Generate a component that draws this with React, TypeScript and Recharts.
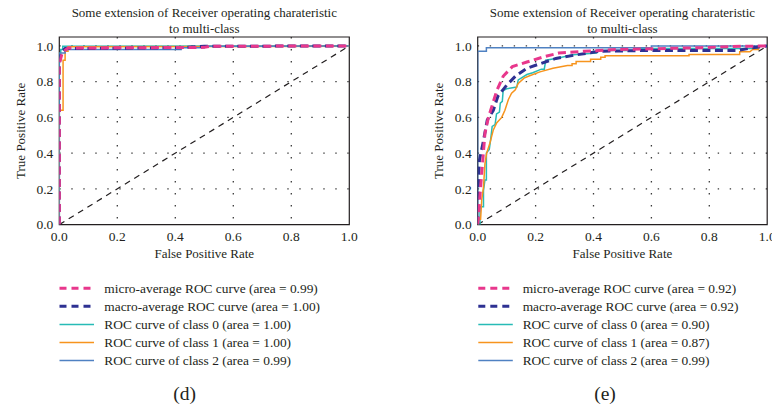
import React from 'react';
import { LineChart, Line, XAxis, YAxis, CartesianGrid, ReferenceArea } from 'recharts';

// ---------- data ----------
const xTicks = [0, 0.2, 0.4, 0.6, 0.8, 1.0];
const yTicks = [0, 0.2, 0.4, 0.6, 0.8, 1.0];
const gridXValues = [0.2, 0.4, 0.6, 0.8];
const gridYValues = [0.2, 0.4, 0.6, 0.8, 1.0];

const titleLines = ['Some extension of Receiver operating charateristic', 'to multi-class'];
const xAxisLabel = 'False Positive Rate';
const yAxisLabel = 'True Positive Rate';

const chance = [[0, 0], [1, 1]];

// panel (d)
const dMicro = [[0, 0], [0, 0.9], [0.01, 0.96], [0.02, 0.975], [0.03, 0.988], [0.5, 0.992], [0.52, 0.998], [1, 1]];
const dMacro = [[0, 0], [0, 0.9], [0.005, 0.95], [0.01, 0.97], [0.02, 0.985], [0.42, 0.99], [0.5, 0.998], [1, 1]];
const dClass0 = [[0, 0], [0, 0.96], [0.005, 0.96], [0.005, 0.98], [0.012, 0.98], [0.012, 0.998], [1, 1]];
const dClass1 = [[0, 0], [0, 0.64], [0.013, 0.64], [0.013, 0.92], [0.02, 0.92], [0.02, 0.97], [0.03, 0.97], [0.03, 0.995], [1, 0.998]];
const dClass2 = [[0, 0], [0, 0.96], [0.02, 0.96], [0.02, 0.975], [0.03, 0.98], [0.42, 0.98], [0.42, 0.99], [0.5, 0.99], [0.5, 0.998], [1, 1]];
const dLabels = [
  'micro-average ROC curve (area = 0.99)',
  'macro-average ROC curve (area = 1.00)',
  'ROC curve of class 0 (area = 1.00)',
  'ROC curve of class 1 (area = 1.00)',
  'ROC curve of class 2 (area = 0.99)',
];

// panel (e)
const eMicro = [[0, 0], [0.003, 0.06], [0.014, 0.29], [0.025, 0.51], [0.037, 0.6], [0.066, 0.75], [0.088, 0.83], [0.12, 0.885], [0.17, 0.91], [0.23, 0.94], [0.28, 0.96], [0.365, 0.97], [0.48, 0.98], [0.77, 0.99], [0.88, 0.997], [1, 1]];
const eMacro = [[0, 0], [0, 0.14], [0.006, 0.36], [0.02, 0.47], [0.033, 0.585], [0.054, 0.64], [0.07, 0.72], [0.1, 0.78], [0.13, 0.83], [0.17, 0.875], [0.215, 0.9], [0.27, 0.93], [0.34, 0.95], [0.42, 0.97], [0.6, 0.975], [0.9, 0.975], [0.95, 0.99], [1, 1]];
const eClass0 = [[0, 0], [0.008, 0], [0.008, 0.1], [0.02, 0.1], [0.02, 0.19], [0.025, 0.25], [0.03, 0.25], [0.03, 0.4], [0.04, 0.42], [0.045, 0.48], [0.05, 0.55], [0.06, 0.56], [0.065, 0.62], [0.075, 0.63], [0.078, 0.68], [0.085, 0.69], [0.088, 0.75], [0.1, 0.76], [0.135, 0.77], [0.14, 0.81], [0.17, 0.84], [0.19, 0.85], [0.22, 0.87], [0.23, 0.87], [0.235, 0.92], [0.27, 0.93], [0.33, 0.95], [0.41, 0.96], [0.42, 0.975], [0.54, 0.975], [0.54, 0.985], [0.97, 0.985], [0.97, 1.0], [1, 1]];
const eClass1 = [[0, 0], [0.003, 0.03], [0.01, 0.03], [0.014, 0.14], [0.02, 0.21], [0.025, 0.34], [0.031, 0.4], [0.042, 0.455], [0.054, 0.53], [0.066, 0.57], [0.083, 0.6], [0.094, 0.64], [0.106, 0.7], [0.117, 0.735], [0.13, 0.755], [0.14, 0.79], [0.16, 0.82], [0.175, 0.83], [0.215, 0.855], [0.26, 0.875], [0.31, 0.89], [0.326, 0.89], [0.326, 0.9], [0.34, 0.9], [0.34, 0.913], [0.39, 0.913], [0.39, 0.926], [0.425, 0.926], [0.425, 0.937], [0.44, 0.937], [0.44, 0.945], [0.73, 0.945], [0.73, 0.952], [0.905, 0.952], [0.905, 0.967], [0.94, 0.967], [0.95, 0.98], [0.97, 0.98], [0.97, 1], [1, 1]];
const eClass2 = [[0, 0], [0, 0.97], [0.03, 0.97], [0.03, 0.99], [0.6, 0.99], [0.6, 1.0], [1, 1]];
const eLabels = [
  'micro-average ROC curve (area = 0.92)',
  'macro-average ROC curve (area = 0.92)',
  'ROC curve of class 0 (area = 0.90)',
  'ROC curve of class 1 (area = 0.87)',
  'ROC curve of class 2 (area = 0.99)',
];

// ---------- styles ----------
const FONT = '"Liberation Serif", "Times New Roman", Times, serif';
const TEXT = '#231f20';
const seriesStyles = [
  { color: '#e8378c', width: 3, dash: '8 4.5' },
  { color: '#2e3192', width: 3, dash: '8 4.5' },
  { color: '#27bbb6', width: 1.5, dash: undefined },
  { color: '#f7941d', width: 1.5, dash: undefined },
  { color: '#4f81c2', width: 1.5, dash: undefined },
];

const toPts = (arr: number[][]) => arr.map(([x, y]) => ({ x, y }));

type PanelCfg = {
  left: number; width: number; plotLeft: number; plotRight: number;
  series: number[][][]; labels: string[]; caption: string;
  legendLineX: number; legendTextX: number; captionX: number;
};

const PLOT_TOP = 37;
const PLOT_BOTTOM = 224.6;
const CHART_H = 260;
const Y_AXIS_W = 40;
const X_AXIS_H = 30;
const legendRows = [288.3, 306.3, 324.4, 342.5, 360.6];

const panels: PanelCfg[] = [
  { left: 0, width: 386, plotLeft: 59.3, plotRight: 349.3, series: [dMicro, dMacro, dClass0, dClass1, dClass2], labels: dLabels, caption: '(d)', legendLineX: 59.5, legendTextX: 104.3, captionX: 184.7 },
  { left: 386, width: 386, plotLeft: 477.7, plotRight: 767.2, series: [eMicro, eMacro, eClass0, eClass1, eClass2], labels: eLabels, caption: '(e)', legendLineX: 478.3, legendTextX: 522.7, captionX: 605 },
];

const tickStyle = { fontSize: 13.5, fill: TEXT, fontFamily: FONT };

function Panel({ p }: { p: PanelCfg }) {
  const margin = {
    top: PLOT_TOP,
    bottom: CHART_H - PLOT_BOTTOM - X_AXIS_H,
    left: p.plotLeft - p.left - Y_AXIS_W,
    right: p.left + p.width - p.plotRight,
  };
  const order = [2, 3, 4, 1, 0];
  return (
    <div style={{ position: 'absolute', left: p.left, top: 0 }}>
      <LineChart width={p.width} height={CHART_H} margin={margin}>
        <CartesianGrid
          horizontalValues={gridYValues}
          verticalValues={gridXValues}
          stroke="#3a3a3a"
          strokeWidth={1.3}
          strokeDasharray="1.4 10.6"
        />
        <XAxis
          type="number"
          dataKey="x"
          domain={[0, 1]}
          ticks={xTicks}
          tickFormatter={(v: number) => v.toFixed(1)}
          axisLine={false}
          tickLine={false}
          tickSize={0}
          tickMargin={7}
          height={X_AXIS_H}
          tick={tickStyle}
          allowDataOverflow
          interval={0}
        />
        <YAxis
          type="number"
          dataKey="y"
          domain={[0, 1.05]}
          ticks={yTicks}
          tickFormatter={(v: number) => v.toFixed(1)}
          axisLine={false}
          tickLine={false}
          tickSize={0}
          tickMargin={6}
          width={Y_AXIS_W}
          tick={tickStyle}
          allowDataOverflow
          interval={0}
        />
        <ReferenceArea x1={0} x2={1} y1={0} y2={1.05} fill="none" stroke={TEXT} strokeWidth={1.2} ifOverflow="visible" />
        <Line
          data={toPts(chance)}
          dataKey="y"
          type="linear"
          stroke={TEXT}
          strokeWidth={1.2}
          strokeDasharray="6 5"
          dot={false}
          activeDot={false}
          isAnimationActive={false}
        />
        {order.map((i) => (
          <Line
            key={i}
            data={toPts(p.series[i])}
            dataKey="y"
            type="linear"
            stroke={seriesStyles[i].color}
            strokeWidth={seriesStyles[i].width}
            strokeDasharray={seriesStyles[i].dash}
            dot={false}
            activeDot={false}
            isAnimationActive={false}
          />
        ))}
      </LineChart>
    </div>
  );
}

function Overlay() {
  return (
    <svg width={772} height={408} style={{ position: 'absolute', left: 0, top: 0, pointerEvents: 'none', fontFamily: FONT }}>
      {panels.map((p, pi) => {
        const cx = (p.plotLeft + p.plotRight) / 2;
        const cy = (PLOT_TOP + PLOT_BOTTOM) / 2;
        return (
          <g key={pi}>
            {titleLines.map((t, i) => (
              <text key={i} x={cx} y={12.7 + i * 15.8} textAnchor="middle" dominantBaseline="central" fontSize={13} fill={TEXT}>{t}</text>
            ))}
            <text x={cx} y={253} textAnchor="middle" dominantBaseline="central" fontSize={13} fill={TEXT}>{xAxisLabel}</text>
            <text x={p.plotLeft - 39} y={cy} textAnchor="middle" dominantBaseline="central" fontSize={13} fill={TEXT} transform={`rotate(-90 ${p.plotLeft - 39} ${cy})`}>{yAxisLabel}</text>
            {p.labels.map((lab, i) => (
              <g key={i}>
                <line x1={p.legendLineX} x2={p.legendLineX + 34.5} y1={legendRows[i]} y2={legendRows[i]} stroke={seriesStyles[i].color} strokeWidth={seriesStyles[i].width} strokeDasharray={seriesStyles[i].dash ? '7 5' : undefined} />
                <text x={p.legendTextX} y={legendRows[i]} dominantBaseline="central" fontSize={13.4} fill={TEXT}>{lab}</text>
              </g>
            ))}
            <text x={p.captionX} y={393} textAnchor="middle" dominantBaseline="central" fontSize={19.5} fill={TEXT}>{p.caption}</text>
          </g>
        );
      })}
    </svg>
  );
}

export default function App() {
  return (
    <div style={{ position: 'absolute', left: 0, top: 0, width: 772, height: 408, overflow: 'hidden', background: '#fff' }}>
      {panels.map((p, i) => <Panel key={i} p={p} />)}
      <Overlay />
    </div>
  );
}
